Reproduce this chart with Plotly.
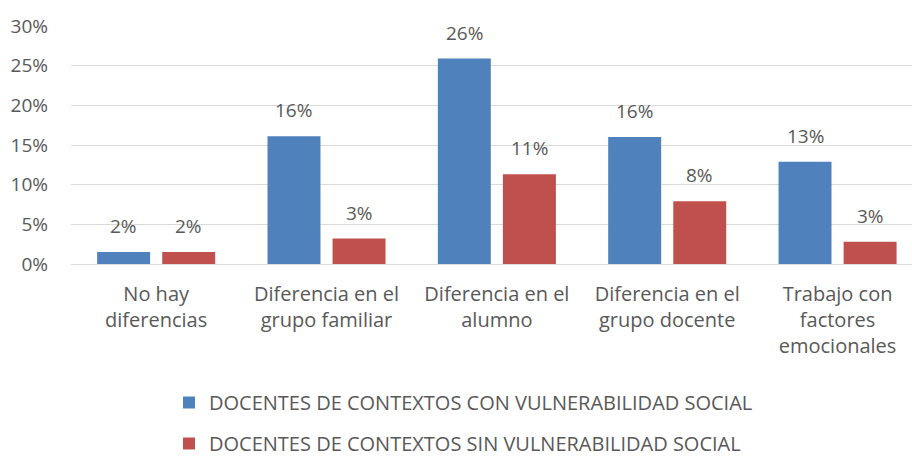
import plotly.graph_objects as go

categories = [
    "No hay<br>diferencias",
    "Diferencia en el<br>grupo familiar",
    "Diferencia en el<br>alumno",
    "Diferencia en el<br>grupo docente",
    "Trabajo con<br>factores<br>emocionales",
]
series_names = [
    "DOCENTES DE CONTEXTOS CON VULNERABILIDAD SOCIAL",
    "DOCENTES DE CONTEXTOS SIN VULNERABILIDAD SOCIAL",
]
con_vulnerabilidad = [1.5, 16.1, 25.9, 16.0, 12.9]
sin_vulnerabilidad = [1.5, 3.2, 11.3, 7.9, 2.8]
y_ticks = [0, 5, 10, 15, 20, 25, 30]
y_tick_labels = ["0%", "5%", "10%", "15%", "20%", "25%", "30%"]

colors = ["#4F81BD", "#C0504D"]
font_family = "Open Sans"
text_color = "#595959"

BARGAP = 0.236
GROUPGAP = 0.186
X_RANGE = [-0.5, 4.437]

fig = go.Figure()
for i, (name, vals) in enumerate(zip(series_names, [con_vulnerabilidad, sin_vulnerabilidad])):
    fig.add_trace(go.Bar(
        x=categories, y=vals, name=name,
        marker=dict(color=colors[i], line=dict(width=0)),
        legendgroup=f"g{i}",
        hoverinfo="skip",
    ))

# data labels above bars
slot = (1 - BARGAP) / 2
annotations = []
for i, vals in enumerate([con_vulnerabilidad, sin_vulnerabilidad]):
    off = (i - 0.5) * slot
    for j, v in enumerate(vals):
        annotations.append(dict(
            x=j + off, y=v, xref="x", yref="y",
            text=f"{round(v + 1e-9):.0f}%",
            showarrow=False, yanchor="bottom", yshift=11,
            font=dict(family=font_family, size=19, color=text_color),
        ))

fig.update_layout(
    width=912, height=457,
    margin=dict(l=71, r=0, t=26, b=193, autoexpand=False),
    plot_bgcolor="white", paper_bgcolor="white",
    barmode="group", bargap=BARGAP, bargroupgap=GROUPGAP,
    font=dict(family=font_family, color=text_color),
    xaxis=dict(
        type="category", range=X_RANGE, automargin=False,
        tickfont=dict(size=20, color=text_color),
        showgrid=False, ticks="", showline=False,
        ticklabelstandoff=16,
    ),
    yaxis=dict(
        range=[0, 30], tickvals=y_ticks, ticktext=y_tick_labels, automargin=False,
        tickfont=dict(size=19, color=text_color),
        gridcolor="#D9D9D9", gridwidth=1,
        zeroline=True, zerolinecolor="#D9D9D9", zerolinewidth=1,
        ticks="", ticklabelstandoff=22, showline=False,
    ),
    legend=dict(
        orientation="v",
        xref="container", x=169 / 912, xanchor="left",
        yref="container", y=(457 - 383) / 457, yanchor="top",
        font=dict(size=20, color=text_color),
        tracegroupgap=12, itemwidth=30,
    ),
    annotations=annotations,
    showlegend=True,
)

fig.write_html(
    "out.html",
    config={"displayModeBar": False},
    post_script="document.body.style.margin='0';document.body.style.overflow='hidden';",
)
